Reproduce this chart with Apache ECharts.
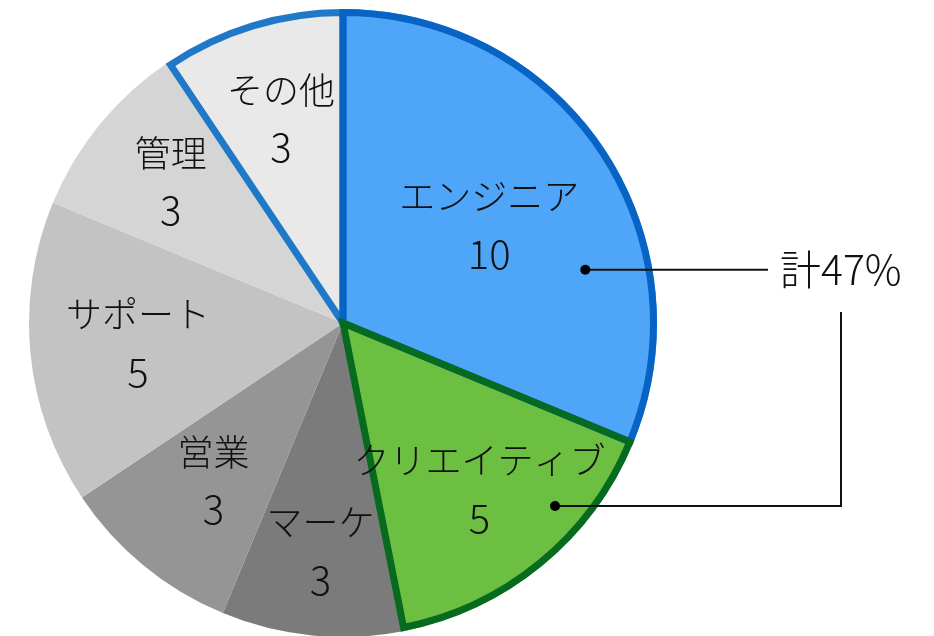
<!DOCTYPE html>
<html><head><meta charset="utf-8">
<script src="https://cdn.jsdelivr.net/npm/echarts@6/dist/echarts.min.js"></script>
<style>html,body{margin:0;padding:0;background:#fff}#c{width:934px;height:636px}</style>
</head><body><div id="c"></div>
<script>
// ---- data ----
const categories = ['エンジニア', 'クリエイティブ', 'マーケ', '営業', 'サポート', '管理', 'その他'];
const values = [10, 5, 3, 3, 5, 3, 3];
const groupedIndices = [0, 1];
const totalPrefix = '計';

// ---- styling / layout ----
const FONT = '"Noto Sans CJK JP", "Noto Sans", sans-serif';
const CX = 343, CY = 323, R = 314, BW = 7;
const fillColors = ['#4fa6f9', '#6dbf41', '#7b7b7b', '#959595', '#c3c3c3', '#d5d5d5', '#e9e9e9'];
const borderColors = ['#0763c4', '#066b1f', null, null, null, null, '#1f78c8'];
const labelRadius = [0.56, 0.685, 0.73, 0.65, 0.656, 0.71, 0.68];

const total = values.reduce((a, b) => a + b, 0);
const startAng = [];
let acc = 0;
values.forEach(v => { startAng.push(acc / total * 2 * Math.PI); acc += v; });
function polar(a, r) { return [CX + r * Math.sin(a), CY - r * Math.cos(a)]; }
function sliceAngle(i, t) { return startAng[i] + t * values[i] / total * 2 * Math.PI; }

const chart = echarts.init(document.getElementById('c'), null, { renderer: 'canvas' });

const base = {
  type: 'pie', center: [CX, CY], startAngle: 90, clockwise: true,
  silent: true, avoidLabelOverlap: false, labelLine: { show: false },
  emphasis: { disabled: true }
};

function borderSeries(indices) {
  return Object.assign({}, base, {
    radius: R - BW / 2,
    label: { show: false },
    data: categories.map((n, i) => ({
      name: n, value: values[i],
      itemStyle: indices.includes(i)
        ? { color: 'rgba(0,0,0,0)', borderColor: borderColors[i], borderWidth: BW, borderJoin: 'miter' }
        : { color: 'rgba(0,0,0,0)', borderWidth: 0 }
    }))
  });
}

const pct = Math.round(groupedIndices.reduce((s, i) => s + values[i], 0) / total * 100);
const p1 = polar(sliceAngle(0, 0.69), 0.79 * R);
const p2 = polar(sliceAngle(1, 0.325), 0.892 * R);
const lineX1 = 768, textX = 780, bracketX = 841, bracketTop = 312;

chart.setOption({
  animation: false,
  backgroundColor: '#ffffff',
  series: [
    Object.assign({}, base, {
      radius: R,
      data: categories.map((n, i) => ({ name: n, value: values[i], itemStyle: { color: fillColors[i], borderWidth: 0 } })),
      label: {
        show: true, position: 'inside', formatter: '{n|{b}}\n{v|{c}}',
        color: '#111', fontFamily: FONT, textBorderWidth: 0,
        rich: {
          n: { fontSize: 36, lineHeight: 57, fontFamily: FONT, fontWeight: 300, color: '#111' },
          v: { fontSize: 40, lineHeight: 57, fontFamily: FONT, fontWeight: 300, color: '#111' }
        }
      },
      labelLayout: function (p) {
        const i = p.dataIndex;
        const xy = polar(sliceAngle(i, 0.5), labelRadius[i] * R);
        return { x: xy[0], y: xy[1] };
      }
    }),
    borderSeries([6]),
    borderSeries([0, 1])
  ],
  graphic: [
    { type: 'polyline', z: 100, shape: { points: [p1, [lineX1, p1[1]]] }, style: { stroke: '#111', lineWidth: 2, fill: null } },
    { type: 'circle', z: 101, shape: { cx: p1[0], cy: p1[1], r: 5 }, style: { fill: '#000' } },
    { type: 'text', z: 101, x: textX, y: p1[1], style: { text: totalPrefix + pct + '%', fontSize: 41, fontWeight: 300, fontFamily: FONT, fill: '#111', verticalAlign: 'middle', align: 'left' } },
    { type: 'polyline', z: 100, shape: { points: [p2, [bracketX, p2[1]], [bracketX, bracketTop]] }, style: { stroke: '#111', lineWidth: 2, fill: null } },
    { type: 'circle', z: 101, shape: { cx: p2[0], cy: p2[1], r: 5 }, style: { fill: '#000' } }
  ]
});
</script>
</body></html>
